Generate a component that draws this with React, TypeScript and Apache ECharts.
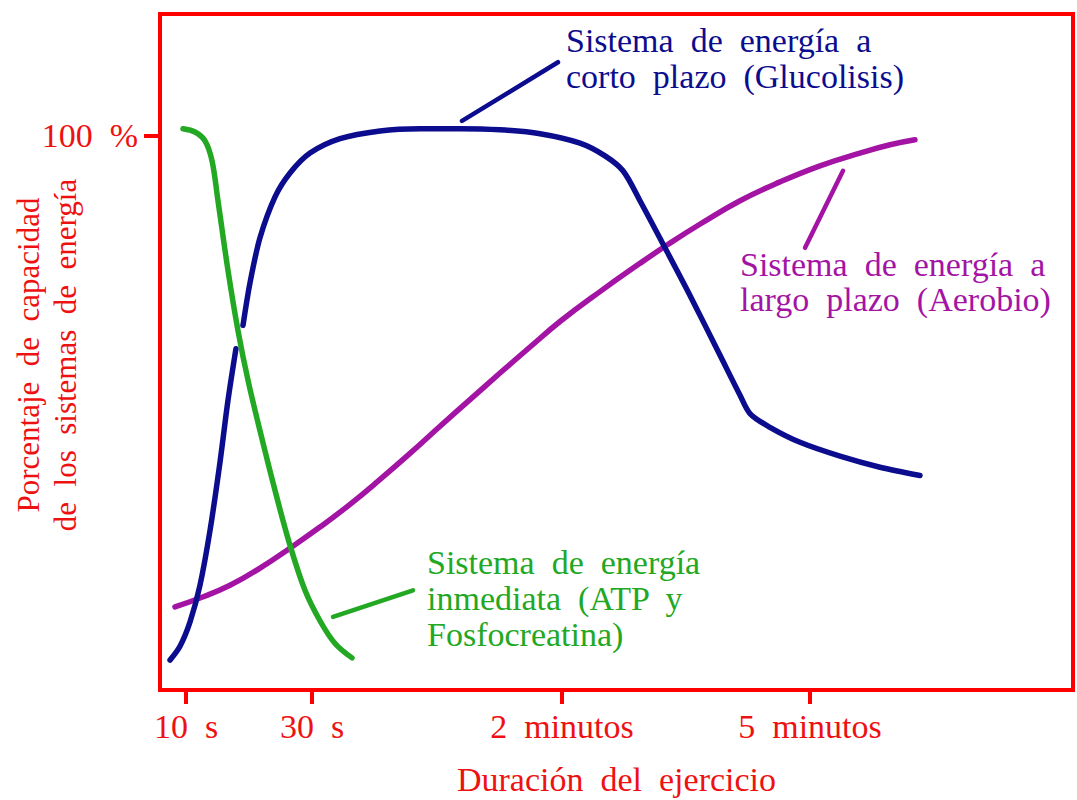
import React, { useEffect, useRef } from "react";
import * as echarts from "echarts";

// x in time-scale units (non-linear duration scale, 0..100), y in % of capacity
const xTickValues = [2.85, 16.65, 44.03, 71.19];
const xTickLabels = ["10  s", "30  s", "2  minutos", "5  minutos"];
const yTickValues = [100];
const yTickLabels = ["100  %"];

const immediateSystem: [number, number][] = [
  [2.52, 101.3], [3.83, 100.7], [4.93, 99.1], [5.7, 95.5], [6.35, 88.3],
  [7.45, 75.7], [8.54, 64.9], [9.64, 55.9], [10.95, 46.8], [12.6, 36.0],
  [14.24, 26.1], [15.88, 18.0], [17.52, 12.5], [19.17, 8.4], [21.03, 5.8],
];

const shortTermSystem: ([number, number] | [number, null])[] = [
  [1.1, 5.4], [2.19, 7.9], [3.29, 12.3], [4.38, 18.9], [5.48, 28.8],
  [6.57, 41.1], [7.45, 52.3], [8.32, 61.6], [8.7, null],
  [9.09, 65.8], [9.86, 73.5], [10.95, 81.6], [12.6, 89.0], [14.24, 93.3],
  [16.43, 96.9], [19.72, 99.5], [24.1, 100.9], [28.48, 101.3], [32.86, 101.3],
  [37.24, 101.1], [41.62, 100.4], [46.0, 98.7], [48.74, 96.4], [50.71, 93.7],
  [52.57, 88.3], [55.09, 80.5], [58.05, 71.2], [61.34, 60.4], [63.53, 53.2],
  [64.62, 49.9], [66.81, 47.4], [70.1, 44.7], [74.48, 42.2], [78.86, 40.2],
  [83.24, 38.7],
];

const longTermSystem: [number, number][] = [
  [1.64, 15.0], [4.38, 16.6], [7.67, 18.9], [10.95, 22.0], [14.24, 25.6],
  [17.52, 29.4], [20.81, 33.5], [24.1, 38.0], [27.38, 42.7], [30.67, 47.6],
  [33.95, 52.4], [37.24, 57.2], [40.53, 61.9], [43.81, 66.5], [48.19, 71.9],
  [52.57, 77.0], [55.53, 80.3], [59.17, 84.1], [63.53, 88.3], [67.91, 91.7],
  [72.29, 94.6], [76.67, 96.9], [79.96, 98.4], [82.69, 99.3],
];

const shortTermCallout: [number, number][] = [[33.08, 102.7], [43.59, 113.3]];
const longTermCallout: [number, number][] = [[74.81, 93.7], [70.65, 79.8]];
const immediateCallout: [number, number][] = [[18.95, 13.2], [27.71, 18.0]];

const shortTermLabel = "Sistema  de  energía  a\ncorto  plazo  (Glucolisis)";
const longTermLabel = "Sistema  de  energía  a\nlargo  plazo  (Aerobio)";
const immediateLabel = "Sistema  de  energía\ninmediata  (ATP  y\nFosfocreatina)";
const yAxisName = "Porcentaje  de  capacidad\nde  los  sistemas  de  energía";
const xAxisName = "Duración  del  ejercicio";

const RED = "#ff0000";
const TEXT_RED = "#ee1111";
const BLUE = "#0c0c8e";
const GREEN = "#22a822";
const PURPLE = "#a414a4";
const FONT = '"Liberation Serif", "DejaVu Serif", serif';

export default function App() {
  const ref = useRef<HTMLDivElement>(null);
  useEffect(() => {
    document.body.style.margin = "0";
    const chart = echarts.init(ref.current!, null, { renderer: "svg" });
    const lineSeries = (data: any[], color: string, width: number, smooth: number | boolean) => ({
      type: "line",
      data,
      symbol: "none",
      smooth,
      connectNulls: false,
      silent: true,
      lineStyle: { color, width, cap: "round", join: "round" },
    });
    chart.setOption({
      animation: false,
      backgroundColor: "#ffffff",
      grid: {
        left: 160,
        right: 4,
        top: 14,
        bottom: 110,
        containLabel: false,
        outerBoundsMode: "none",
        show: true,
        borderColor: RED,
        borderWidth: 4,
      },
      xAxis: {
        type: "value",
        min: 0,
        max: 100,
        splitLine: { show: false },
        axisLine: { show: true, lineStyle: { color: RED, width: 4 } },
        axisTick: {
          show: true,
          customValues: xTickValues,
          length: 14,
          inside: false,
          lineStyle: { color: RED, width: 4 },
        },
        axisLabel: {
          customValues: xTickValues,
          margin: 19,
          color: TEXT_RED,
          fontFamily: FONT,
          fontSize: 34,
          formatter: (v: number) => {
            const i = xTickValues.findIndex((t) => Math.abs(t - v) < 1e-6);
            return i >= 0 ? xTickLabels[i] : "";
          },
        },
        name: xAxisName,
        nameLocation: "middle",
        nameGap: 72,
        nameTextStyle: { color: TEXT_RED, fontFamily: FONT, fontSize: 34 },
      },
      yAxis: {
        type: "value",
        min: 0,
        max: 122,
        splitLine: { show: false },
        axisLine: { show: true, lineStyle: { color: RED, width: 4 } },
        axisTick: {
          show: true,
          customValues: yTickValues,
          length: 16,
          inside: false,
          lineStyle: { color: RED, width: 4 },
        },
        axisLabel: {
          customValues: yTickValues,
          margin: 22,
          color: TEXT_RED,
          fontFamily: FONT,
          fontSize: 34,
          formatter: (v: number) => {
            const i = yTickValues.findIndex((t) => Math.abs(t - v) < 1e-6);
            return i >= 0 ? yTickLabels[i] : "";
          },
        },
      },
      series: [
        lineSeries(longTermSystem, PURPLE, 5.5, 0.45),
        lineSeries(shortTermSystem, BLUE, 5.5, 0.3),
        lineSeries(immediateSystem, GREEN, 5.5, 0.35),
        lineSeries(shortTermCallout, BLUE, 4.5, false),
        lineSeries(longTermCallout, PURPLE, 4.5, false),
        lineSeries(immediateCallout, GREEN, 4.5, false),
      ],
      graphic: [
        {
          type: "text",
          x: 47,
          y: 355,
          rotation: Math.PI / 2,
          silent: true,
          style: { text: yAxisName, fill: TEXT_RED, font: `31px ${FONT}`, lineHeight: 37, verticalAlign: "middle", align: "center" },
        },
        {
          type: "text",
          x: 566,
          y: 22,
          silent: true,
          style: { text: shortTermLabel, fill: BLUE, font: `34px ${FONT}`, lineHeight: 36, verticalAlign: "top", align: "left" },
        },
        {
          type: "text",
          x: 740,
          y: 247,
          silent: true,
          style: { text: longTermLabel, fill: PURPLE, font: `34px ${FONT}`, lineHeight: 35, verticalAlign: "top", align: "left" },
        },
        {
          type: "text",
          x: 427,
          y: 544,
          silent: true,
          style: { text: immediateLabel, fill: GREEN, font: `34px ${FONT}`, lineHeight: 36, verticalAlign: "top", align: "left" },
        },
      ],
    });
    return () => chart.dispose();
  }, []);
  return <div ref={ref} style={{ width: 1077, height: 800 }} />;
}
